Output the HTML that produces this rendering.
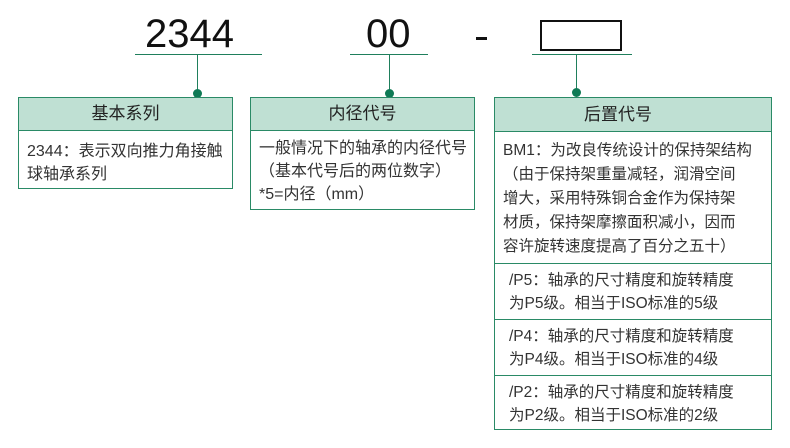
<!DOCTYPE html>
<html><head><meta charset="utf-8"><style>
body{margin:0;width:790px;height:448px;background:#fff;position:relative;overflow:hidden;font-family:"Liberation Sans","Noto Sans CJK SC",sans-serif;color:#333}
.a{position:absolute}
.ln{position:absolute;background:#1f7f5c}
.dot{position:absolute;width:9px;height:9px;border-radius:50%;background:#0f7a55}
.box{position:absolute;border:1px solid #2a8a66;box-sizing:border-box}
.hd{background:#bfe0d3;border-bottom:1px solid #2a8a66;text-align:center;font-size:17px;color:#222;box-sizing:border-box}
.t{font-size:16px;line-height:23px;padding-left:8px;white-space:nowrap}
.sec{border-top:1px solid #2a8a66;box-sizing:border-box}
</style></head><body>
<div class="a" style="left:145px;top:12px;font-size:40px;color:#111;line-height:44px">2344</div>
<div class="ln" style="left:135px;top:54px;width:127px;height:1px"></div>
<div class="ln" style="left:197px;top:55px;width:1px;height:38px"></div>
<div class="dot" style="left:193px;top:89px"></div>
<div class="a" style="left:366px;top:12px;font-size:40px;color:#111;line-height:44px">00</div>
<div class="ln" style="left:350px;top:54px;width:78px;height:1px"></div>
<div class="ln" style="left:389px;top:55px;width:1px;height:38px"></div>
<div class="dot" style="left:385px;top:89px"></div>
<div class="a" style="left:476px;top:37px;width:11px;height:3px;background:#111"></div>
<div class="a" style="left:540px;top:20px;width:82px;height:31px;border:2px solid #111;box-sizing:border-box"></div>
<div class="ln" style="left:532px;top:54px;width:100px;height:1px"></div>
<div class="ln" style="left:576px;top:55px;width:1px;height:38px"></div>
<div class="dot" style="left:572px;top:88px"></div>

<div class="box" style="left:18px;top:97px;width:215px;height:92px">
<div class="hd" style="height:33px;line-height:32px">基本系列</div>
<div class="t" style="padding-top:9px;line-height:23px">2344：表示双向推力角接触<br>球轴承系列</div>
</div>
<div class="box" style="left:250px;top:97px;width:225px;height:113px">
<div class="hd" style="height:33px;line-height:32px">内径代号</div>
<div class="t" style="padding-top:6px;line-height:23px">一般情况下的轴承的内径代号<br>（基本代号后的两位数字）<br>*5=内径（mm）</div>
</div>
<div class="box" style="left:494px;top:97px;width:278px;height:333px">
<div class="hd" style="height:34px;line-height:34px;padding-right:30px">后置代号</div>
<div class="t" style="height:131px;padding-top:7px;line-height:24px;box-sizing:border-box;font-size:15.5px">BM1：为改良传统设计的保持架结构<br>（由于保持架重量减轻，润滑空间<br>增大，采用特殊铜合金作为保持架<br>材质，保持架摩擦面积减小，因而<br>容许旋转速度提高了百分之五十）</div>
<div class="t sec" style="height:56px;padding-top:5px;padding-left:14px;font-size:15.5px">/P5：轴承的尺寸精度和旋转精度<br>为P5级。相当于ISO标准的5级</div>
<div class="t sec" style="height:56px;padding-top:5px;padding-left:14px;font-size:15.5px">/P4：轴承的尺寸精度和旋转精度<br>为P4级。相当于ISO标准的4级</div>
<div class="t sec" style="height:56px;padding-top:5px;padding-left:14px;font-size:15.5px">/P2：轴承的尺寸精度和旋转精度<br>为P2级。相当于ISO标准的2级</div>
</div>
</body></html>
